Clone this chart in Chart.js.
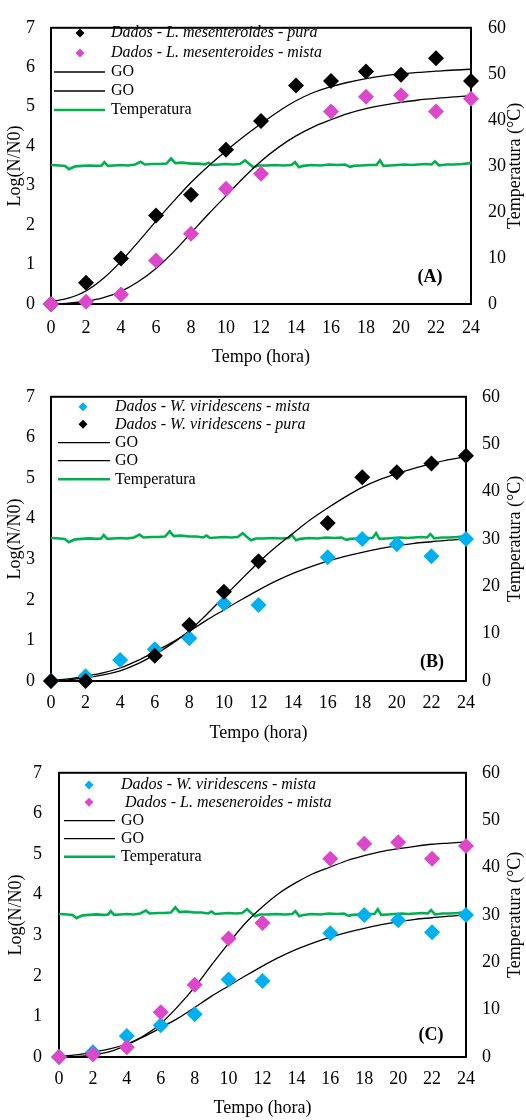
<!DOCTYPE html>
<html>
<head>
<meta charset="utf-8">
<script src="https://cdn.jsdelivr.net/npm/chart.js@4.4.0/dist/chart.umd.min.js"></script>
<style>
  body { margin: 0; background: #fff; }
  #page { position: relative; width: 526px; height: 1120px; background: #fff; }
  canvas { position: absolute; left: 0; }
</style>
</head>
<body>
<div id="page">
  <canvas id="chartA" width="526" height="370" style="top:0px"></canvas>
  <canvas id="chartB" width="526" height="375" style="top:370px"></canvas>
  <canvas id="chartC" width="526" height="375" style="top:745px"></canvas>
</div>
<script>
// measured points (hours)
const hours = [0, 2, 4, 6, 8, 10, 12, 14, 16, 18, 20, 22, 24];
const lmPura = [0, 0.54, 1.15, 2.24, 2.77, 3.91, 4.64, 5.54, 5.65, 5.89, 5.81, 6.23, 5.65];
const lmMista = [0, 0.06, 0.24, 1.1, 1.78, 2.92, 3.3, null, 4.88, 5.25, 5.29, 4.88, 5.2];
const wvMista = [0, 0.12, 0.52, 0.78, 1.05, 1.91, 1.87, null, 3.05, 3.5, 3.37, 3.07, 3.5];
const wvPura = [0, 0, null, 0.62, 1.38, 2.2, 2.95, null, 3.89, 5.02, 5.14, 5.36, 5.55];

// fitted GO curves, read every hour
const curveHours = [0, 1, 2, 3, 4, 5, 6, 7, 8, 9, 10, 11, 12, 13, 14, 15, 16, 17, 18, 19, 20, 21, 22, 23, 24];
const goLmPuraA = [0.06, 0.15, 0.33, 0.65, 1.08, 1.58, 2.1, 2.6, 3.08, 3.5, 3.88, 4.24, 4.57, 4.88, 5.15, 5.36, 5.51, 5.62, 5.71, 5.78, 5.83, 5.87, 5.9, 5.93, 5.95];
const goLmMistaA = [0, 0.02, 0.07, 0.16, 0.32, 0.57, 0.9, 1.32, 1.8, 2.28, 2.74, 3.2, 3.62, 3.97, 4.26, 4.49, 4.67, 4.83, 4.95, 5.04, 5.11, 5.17, 5.21, 5.25, 5.28];
const goWvPuraB = [0, 0.03, 0.08, 0.15, 0.25, 0.42, 0.65, 0.92, 1.24, 1.64, 2.07, 2.5, 2.92, 3.3, 3.64, 3.97, 4.26, 4.53, 4.77, 4.96, 5.11, 5.24, 5.35, 5.45, 5.53];
const goWvMista = [0.02, 0.05, 0.12, 0.2, 0.32, 0.5, 0.72, 0.95, 1.22, 1.5, 1.75, 2.0, 2.24, 2.46, 2.65, 2.81, 2.95, 3.07, 3.17, 3.26, 3.33, 3.39, 3.43, 3.47, 3.5];
const goLmMistaC = [0, 0.01, 0.05, 0.13, 0.3, 0.52, 0.82, 1.24, 1.72, 2.27, 2.8, 3.3, 3.7, 4.04, 4.3, 4.52, 4.68, 4.84, 4.96, 5.06, 5.13, 5.19, 5.24, 5.27, 5.3];

// logged temperature (°C)
const tempHours = [0, 0.5, 0.8, 1.03, 1.2, 1.4, 1.8, 2.2, 2.6, 2.9, 3.05, 3.25, 3.6, 4.0, 4.4, 4.8, 5.12, 5.35, 5.8, 6.2, 6.6, 6.86, 7.1, 7.5, 8.0, 8.4, 8.8, 9.0, 9.2, 9.6, 10.0, 10.4, 10.8, 11.09, 11.3, 11.56, 11.85, 12.3, 12.8, 13.3, 13.75, 13.94, 14.17, 14.4, 14.9, 15.4, 15.9, 16.4, 16.8, 17.09, 17.3, 17.7, 18.2, 18.6, 18.8, 18.99, 19.4, 19.8, 20.2, 20.6, 21.0, 21.4, 21.75, 21.94, 22.17, 22.6, 23.0, 23.5, 24.0];
const tempC = [30.2, 30.1, 30.0, 29.3, 29.6, 29.9, 30.0, 30.1, 30.0, 30.1, 30.8, 30.0, 30.1, 30.2, 30.1, 30.3, 30.9, 30.3, 30.4, 30.4, 30.5, 31.6, 30.6, 30.7, 30.5, 30.5, 30.3, 30.7, 30.2, 30.3, 30.4, 30.3, 30.4, 31.2, 30.5, 29.7, 30.1, 30.1, 30.2, 30.1, 30.2, 30.8, 29.7, 30.0, 30.2, 30.1, 30.3, 30.2, 30.3, 29.8, 30.0, 30.1, 30.2, 30.2, 31.2, 30.0, 30.1, 30.2, 30.3, 30.2, 30.3, 30.4, 30.3, 31.0, 30.1, 30.3, 30.3, 30.4, 30.6];

const BLACK = "#000000";
const PINK = "#DD47C9";
const BLUE = "#00B0F0";
const GREEN = "#00B050";
const FONT = "'Liberation Serif', 'Times New Roman', serif";

function toPoints(xs, ys) {
  return xs.map((x, i) => ({ x: x, y: ys[i] })).filter(p => p.y !== null);
}

function dotSet(xs, ys, color) {
  return {
    data: toPoints(xs, ys),
    showLine: false,
    pointStyle: "rectRot",
    pointRadius: 8,
    pointHoverRadius: 8,
    pointBackgroundColor: color,
    pointBorderWidth: 0,
    clip: false,
    yAxisID: "y"
  };
}

function curveSet(ys) {
  return {
    data: toPoints(curveHours, ys),
    showLine: true,
    borderColor: BLACK,
    borderWidth: 1.3,
    pointRadius: 0,
    cubicInterpolationMode: "monotone",
    yAxisID: "y"
  };
}

function tempSet() {
  return {
    data: toPoints(tempHours, tempC),
    showLine: true,
    borderColor: GREEN,
    borderWidth: 2.6,
    pointRadius: 0,
    tension: 0,
    yAxisID: "y2"
  };
}

// border, legend, panel letter and right axis title
function extras(p) {
  return {
    id: "extras",
    beforeDatasetsDraw(chart) {
      const a = chart.chartArea;
      const ctx = chart.ctx;
      ctx.save();
      ctx.strokeStyle = BLACK;
      ctx.lineWidth = 2;
      ctx.strokeRect(a.left, a.top, a.right - a.left, a.bottom - a.top);
      ctx.restore();
    },
    afterDraw(chart) {
      const ctx = chart.ctx;
      const a = chart.chartArea;
      ctx.save();
      ctx.textBaseline = "middle";
      p.legend.forEach((item, i) => {
        const y = p.rows[i];
        if (item.dot) {
          ctx.fillStyle = item.color;
          ctx.beginPath();
          ctx.moveTo(p.markX - 4.5, y);
          ctx.lineTo(p.markX, y - 4.5);
          ctx.lineTo(p.markX + 4.5, y);
          ctx.lineTo(p.markX, y + 4.5);
          ctx.closePath();
          ctx.fill();
        } else {
          ctx.strokeStyle = item.color;
          ctx.lineWidth = item.width;
          ctx.beginPath();
          ctx.moveTo(p.lineX0, y);
          ctx.lineTo(p.lineX1, y);
          ctx.stroke();
        }
        ctx.fillStyle = BLACK;
        ctx.textAlign = "left";
        ctx.font = (item.dot ? "italic " : "") + "16px " + FONT;
        ctx.fillText(item.text, p.textX, y);
      });

      ctx.font = "bold 18px " + FONT;
      ctx.textAlign = "center";
      ctx.fillText(p.letter, p.letterX, p.letterY);

      ctx.font = "18px " + FONT;
      ctx.translate(515, (a.top + a.bottom) / 2);
      ctx.rotate(-Math.PI / 2);
      ctx.fillText("Temperatura (°C)", 0, 0);
      ctx.restore();
    }
  };
}

function makeChart(id, p) {
  const tickFont = { family: FONT, size: 18 };
  return new Chart(document.getElementById(id), {
    type: "scatter",
    data: { datasets: p.datasets },
    options: {
      responsive: false,
      animation: false,
      events: [],
      layout: { padding: { top: p.top, left: 0, right: 0, bottom: 0 } },
      plugins: { legend: { display: false }, tooltip: { enabled: false } },
      scales: {
        x: {
          type: "linear", min: 0, max: 24,
          grid: { display: false, drawTicks: false },
          border: { display: false },
          ticks: { stepSize: 2, autoSkip: false, maxRotation: 0, color: BLACK, font: tickFont, padding: p.xPad },
          title: { display: true, text: "Tempo (hora)", color: BLACK, font: tickFont, padding: { top: 0, bottom: p.xTitlePad } },
          afterFit: s => { s.height = p.xHeight; }
        },
        y: {
          position: "left", min: 0, max: 7,
          grid: { display: false, drawTicks: false },
          border: { display: false },
          ticks: { stepSize: 1, color: BLACK, font: tickFont, padding: p.yPad },
          title: { display: true, text: "Log(N/N0)", color: BLACK, font: tickFont, padding: { top: p.yTitlePad, bottom: 0 } },
          afterFit: s => { s.width = p.yWidth; }
        },
        y2: {
          position: "right", min: 0, max: 60,
          grid: { display: false, drawTicks: false, drawOnChartArea: false },
          border: { display: false },
          ticks: { stepSize: 10, color: BLACK, font: tickFont, padding: p.y2Pad },
          afterFit: s => { s.width = p.y2Width; }
        }
      }
    },
    plugins: [extras(p)]
  });
}

// first dataset is painted on top
makeChart("chartA", {
  top: 16, xHeight: 66, xPad: 13, xTitlePad: 2, yWidth: 51, yPad: 16, yTitlePad: 4, y2Width: 55, y2Pad: 17,
  datasets: [
    dotSet(hours, lmMista, PINK),
    dotSet(hours, lmPura, BLACK),
    curveSet(goLmPuraA),
    curveSet(goLmMistaA),
    tempSet()
  ],
  legend: [
    { dot: true, color: BLACK, text: "Dados - L. mesenteroides - pura" },
    { dot: true, color: PINK, text: "Dados - L. mesenteroides - mista" },
    { color: BLACK, width: 1.3, text: "GO" },
    { color: BLACK, width: 1.3, text: "GO" },
    { color: GREEN, width: 2.6, text: "Temperatura" }
  ],
  rows: [33, 53, 72, 91, 110], markX: 80, lineX0: 54, lineX1: 105, textX: 111,
  letter: "(A)", letterX: 430, letterY: 277
});

makeChart("chartB", {
  top: 23, xHeight: 64, xPad: 11.5, xTitlePad: 1, yWidth: 51, yPad: 16, yTitlePad: 4, y2Width: 60, y2Pad: 16,
  datasets: [
    dotSet(hours, wvPura, BLACK),
    dotSet(hours, wvMista, BLUE),
    curveSet(goWvPuraB),
    curveSet(goWvMista),
    tempSet()
  ],
  legend: [
    { dot: true, color: BLUE, text: "Dados - W. viridescens - mista" },
    { dot: true, color: BLACK, text: "Dados - W. viridescens - pura" },
    { color: BLACK, width: 1.3, text: "GO" },
    { color: BLACK, width: 1.3, text: "GO" },
    { color: GREEN, width: 2.6, text: "Temperatura" }
  ],
  rows: [36.7, 54.3, 72.7, 90.7, 109.3], markX: 83, lineX0: 58, lineX1: 110, textX: 115,
  letter: "(B)", letterX: 432, letterY: 292
});

makeChart("chartC", {
  top: 24, xHeight: 63, xPad: 11.5, xTitlePad: 1, yWidth: 59, yPad: 17, yTitlePad: 5, y2Width: 60, y2Pad: 16,
  datasets: [
    dotSet(hours, lmMista, PINK),
    dotSet(hours, wvMista, BLUE),
    curveSet(goLmMistaC),
    curveSet(goWvMista),
    tempSet()
  ],
  legend: [
    { dot: true, color: BLUE, text: "Dados - W. viridescens - mista" },
    { dot: true, color: PINK, text: " Dados - L. meseneroides - mista" },
    { color: BLACK, width: 1.3, text: "GO" },
    { color: BLACK, width: 1.3, text: "GO" },
    { color: GREEN, width: 2.6, text: "Temperatura" }
  ],
  rows: [40, 57.3, 75.7, 93.7, 111.7], markX: 89, lineX0: 64, lineX1: 115, textX: 121,
  letter: "(C)", letterX: 431, letterY: 290
});
</script>
</body>
</html>
